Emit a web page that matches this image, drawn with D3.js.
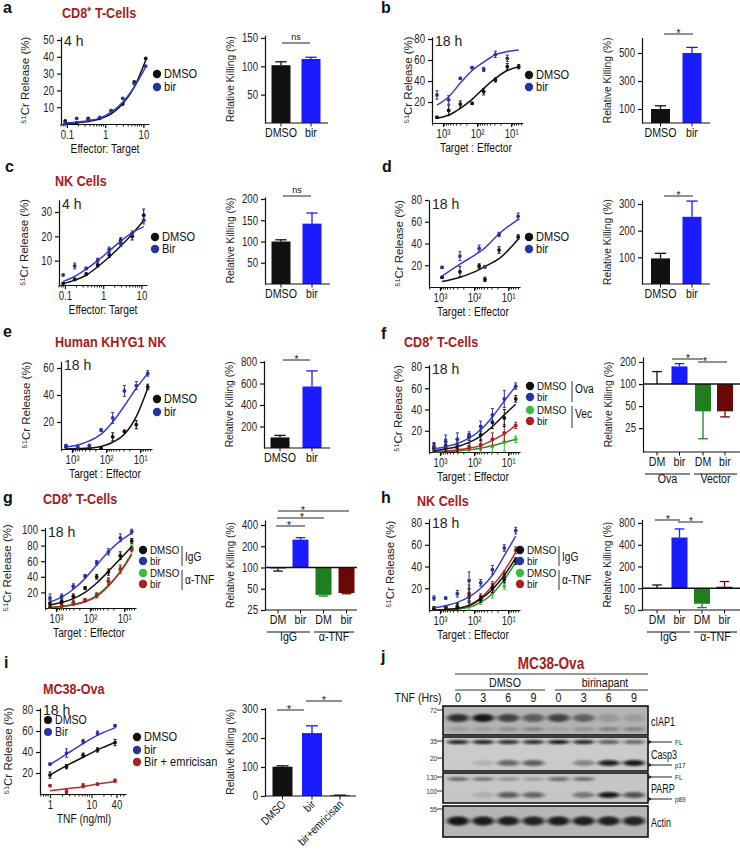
<!DOCTYPE html>
<html><head><meta charset="utf-8">
<script src="https://cdn.jsdelivr.net/npm/d3@7/dist/d3.min.js"></script>
<style>
body{margin:0;background:#fff}
svg{font-family:"Liberation Sans",Arial,sans-serif}
</style></head><body>
<svg id="fig" width="740" height="852"></svg>
<script>
// ================= DATA =================
const etRatio = [0.09,0.18,0.36,0.72,1.44,2.88,5.75,11.5];
const teRatio = [1500,680,310,140,64,29,13,6];
const teRatioD = [870,260,71,48,18.5,5.1];
const tnfDose = [1,2.5,6.3,14,37];
const teTickLabels = {1000:'10³',100:'10²',10:'10¹'};

// a
const aDmso = [1.8,0.8,3.4,3.4,7.9,11.9,25,39];
const aDmsoFit = [0.3,0.8,1.5,3,6,12,22,38];
const aBir = [0.5,3.4,2.8,4,8,15.3,24,34.5];
const aBirFit = [0.6,1.2,2,3.5,7,13,22,34];
const aBars = [102,113], aBarsErr = [108,116];
// b
const bDmso = [5.4,12,18,18.7,29.8,41,53.6,53.6];
const bDmsoErr = [1,5,3,1,3,2,3,2];
const bDmsoFit = [4.5,7.6,14,22.5,33,42.5,50,53.6];
const bBir = [26.7,22,42.5,52.7,51,65.4,61.6];
const bBirErr = [4,4,1,1,2,3,3];
const bBirFit = [17,25,38,50,58,65,68,69.5];
const bBars = [100,500], bBarsErr = [123,540];
// c
const cDmso = [0.7,2.3,4.5,8.2,12.3,18.4,20,28.7];
const cDmsoErr = [0,0.5,0.5,0.8,1,1,1.5,2.5];
const cDmsoFit = [0.5,2,4,7.5,11.5,16,21,26.5];
const cBir = [4.1,7.8,6.8,10.2,14.6,16.8,21.2,26.6];
const cBirErr = [0,1.2,0.5,0.8,1,1,1,1.5];
const cBirFit = [1.5,3.5,6.5,10,14,18,21.5,24];
const cBars = [100,142], cBarsErr = [104,167];
// d
const dDmso = [8.9,14,19.3,7,34,46];
const dDmsoErr = [1,5,2,2,3,2];
const dDmsoFit = [5,9,16,19,26,44];
const dBir = [18,28.4,35.5,18.6,48.3,65];
const dBirErr = [1,4,3,1,2,3];
const dBirFit = [10,21,32,36,49,62];
const dBars = [96,252], dBarsErr = [115,311];
// e
const eDmso = [1.5,0.8,0.8,0.5,9,13,18,46];
const eDmsoErr = [0,0,0,0,3,1,3,2];
const eDmsoFit = [0,0.3,0.7,1.8,5,11,24,45];
const eBir = [2.4,1.7,2.5,14,23,43,47,56];
const eBirErr = [1,1,1,1,4,4,3,2];
const eBirFit = [1.5,3,6,11,20,32,45,56];
const eBars = [98,572], eBarsErr = [117,717];
// f
const fDmsoOva = [4,6,6,14,16,28,32,50];
const fDmsoOvaFit = [1,3,5,9,15,24,35,45];
const fBirOva = [5,10,12,16,24,35,50,62];
const fBirOvaFit = [3,5,8,13,21,33,48,62];
const fDmsoVec = [2,2,2,3,5,5,9,12];
const fDmsoVecFit = [0,0.5,1,2,3.5,6,9,12];
const fBirVec = [3,4,3,5,7,12,18,25];
const fBirVecFit = [0.5,1,2,3.5,6,11,17,25];
const fErr = [4,6,6,3,5,6,8,3];
const fBars = [100,174,42.4,42.4], fBarsErr = [148,190,17.9,35.6];
// g
const gDmsoIgg = [5.5,8.5,15,25.5,40,46,67,86];
const gDmsoIggFit = [4,7,12,20,32,47,63,79];
const gBirIgg = [13,15,28,41,58,72,90,98];
const gBirIggFit = [8,14,24,38,55,72,86,96];
const gDmsoTnf = [1.5,2.5,6,10,17,35,49,78];
const gDmsoTnfFit = [1,2,4.5,8.5,16,29,47,70];
const gBirTnf = [2,3,7,10,16,34,50,75];
const gBirTnfFit = [1,2,4,8,15,28,46,68];
const gErr = [5,3,3,2,3,4,5,3];
const gBars = [97,248,41,43.5], gBarsErr = [89,265,39.5,42.5];
// h
const hDmsoIgg = [1,3,3,12,10,20,28,45];
const hDmsoIggFit = [0,0.5,1.5,4,10,19,32,48];
const hBirIgg = [11,11,15,27,25,37,57,73];
const hBirIggFit = [2,4,7,12,20,32,50,68];
const hDmsoTnf = [0.5,2,2,8,8,15,22,45];
const hDmsoTnfFit = [0,0.3,1,2.5,7,15,28,44];
const hBirTnf = [1,2,3,15,12,22,33,55];
const hBirTnfFit = [0,0.5,1.5,4.5,11,22,36,53];
const hErr = [2,1,3,8,3,4,3,3];
const hBars = [100,504,61,105], hBarsErr = [111,662,54,124];
// i
const iDmso = [18,26,37,42,49];
const iDmsoErr = [3,2,2,2,3];
const iDmsoFit = [18,27,35,42,49];
const iBir = [28.5,39,50,58,65];
const iBirErr = [1,4,2,2,1];
const iBirFit = [28,38,48,56,63];
const iEmr = [7.9,2.2,7.9,9.5,12.7];
const iEmrErr = [0.5,2,2,1,1.5];
const iEmrFit = [3,5,7,9.5,12];
const iBars = [101,217,2], iBarsErr = [104,242,3];
const iBarLabels = ['DMSO','bir','bir+emricisan'];
// j (western blot band intensities, lanes: DMSO 0,3,6,9 | birinapant 0,3,6,9)
const tnfHrs = ['0','3','6','9','0','3','6','9'];
const bandCiap1 = [0.8,0.95,0.7,0.55,0.7,0.45,0.15,0.12];
const bandCiap1Low = [0.12,0.12,0.2,0.25,0.1,0.18,0.28,0.28];
const bandCasp3FL = [0.9,0.9,0.85,0.85,0.95,0.88,0.6,0.55];
const bandCasp3p17 = [0.02,0.12,0.55,0.6,0.02,0.35,0.9,0.95];
const bandParpFL = [0.45,0.4,0.25,0.2,0.5,0.45,0.02,0.02];
const bandParpP89 = [0.02,0.12,0.6,0.55,0.02,0.4,0.95,0.65];
const bandActin = [0.95,0.92,0.9,0.88,0.92,0.9,0.9,0.88];

// ================= DRAWING =================
const svg = d3.select('#fig');
const COL = {
  black:'#111111', navy:'#25359e', blueLine:'#3a3ad6', blueBar:'#1b1bff',
  green:'#3dbb3d', greenLine:'#2a8a2a', greenBar:'#1f7f1f',
  red:'#a82020', redLine:'#b23030', redBar:'#6a0808', title:'#a3201c'
};
// squeeze glyphs horizontally to mimic the narrow typeface of the figure
function condense(sel,f){
  if(f>=1) return;
  sel.each(function(){
    const L=this.getComputedTextLength();
    if(L>0){ this.setAttribute('textLength',(L*f).toFixed(2)); this.setAttribute('lengthAdjust','spacingAndGlyphs'); }
  });
}
function text(x,y,str,opt={}){
  const t = svg.append('text').attr('x',x).attr('y',y).text(str)
    .attr('font-size',opt.size||12).attr('fill',opt.fill||'#111')
    .attr('text-anchor',opt.anchor||'start');
  if(opt.weight) t.attr('font-weight',opt.weight);
  if(opt.rotate!=null) t.attr('transform',`rotate(${opt.rotate},${x},${y})`);
  condense(t,opt.cond==null?0.85:opt.cond);
  return t;
}
function styleAxis(g){
  g.selectAll('path,line').attr('stroke','#111').attr('stroke-width',1.2);
  g.selectAll('text').attr('fill','#222').attr('font-size',12);
  condense(g.selectAll('text'),0.8);
}

function linePanel(o){
  const y = d3.scaleLinear().domain([0,o.vRef]).range([o.y0,o.yRef]);
  const topPx = y(o.vTop);
  const yA = d3.scaleLinear().domain([0,o.vTop]).range([o.y0,topPx]);
  let x, major, fmt;
  if(o.xType==='ET'){ x=d3.scaleLog().domain([0.07,14]).range([o.x0,o.x0+88]); major=[0.1,1,10]; fmt=d=>String(d); }
  else if(o.xType==='TE'){ x=d3.scaleLog().domain([2100,4.5]).range([o.x0,o.x0+91]); major=[1000,100,10]; fmt=d=>teTickLabels[d]; }
  else { x=d3.scaleLog().domain([0.575,68]).range([o.x0,o.x0+86]); major=[1,10,40]; fmt=d=>String(d); }
  const gy = svg.append('g').attr('transform',`translate(${o.x0},0)`)
    .call(d3.axisLeft(yA).tickValues(o.yTicks).tickSize(4).tickSizeOuter(0).tickPadding(3));
  styleAxis(gy);
  const gx = svg.append('g').attr('transform',`translate(0,${o.y0})`)
    .call(d3.axisBottom(x).tickValues(major).tickFormat(fmt).tickSize(4).tickSizeOuter(0).tickPadding(2));
  styleAxis(gx);
  const mn = x.ticks().filter(t=>!major.includes(t));
  svg.append('g').selectAll('line').data(mn).join('line')
    .attr('x1',d=>x(d)).attr('x2',d=>x(d)).attr('y1',o.y0).attr('y2',o.y0+2.5)
    .attr('stroke','#111').attr('stroke-width',1);
  if(o.xLabel) text(o.x0+44,o.y0+29,o.xLabel,{anchor:'middle',size:12});
  text(o.ylx,(o.y0+topPx)/2,'⁵¹Cr Release (%)',{anchor:'middle',size:11.5,rotate:-90,fill:'#222',cond:1});
  text(o.x0+3,o.timeY||topPx+9,o.time,{size:14,fill:'#222',cond:1});
  o.series.forEach(s=>{
    const xs = s.xs||o.xs;
    svg.append('path').datum(s.fit)
      .attr('d',d3.line().x((d,i)=>x(xs[i])).y(d=>y(d)).curve(d3.curveMonotoneX))
      .attr('fill','none').attr('stroke',s.line).attr('stroke-width',1.5);
    if(s.err){
      const ge = svg.append('g').attr('stroke',s.dot).attr('stroke-width',1);
      s.pts.forEach((v,i)=>{
        const e=s.err[i]; if(!e) return;
        const cx=x(xs[i]);
        ge.append('line').attr('x1',cx).attr('x2',cx).attr('y1',y(v+e)).attr('y2',y(Math.max(0,v-e)));
        ge.append('line').attr('x1',cx-1.5).attr('x2',cx+1.5).attr('y1',y(v+e)).attr('y2',y(v+e));
        ge.append('line').attr('x1',cx-1.5).attr('x2',cx+1.5).attr('y1',y(Math.max(0,v-e))).attr('y2',y(Math.max(0,v-e)));
      });
    }
    svg.append('g').selectAll('circle').data(s.pts).join('circle')
      .attr('cx',(d,i)=>x(xs[i])).attr('cy',d=>y(d)).attr('r',1.9).attr('fill',s.dot);
  });
}

function legend(items,r=4.2,size=13){
  items.forEach(it=>{
    svg.append('circle').attr('cx',it.x).attr('cy',it.y).attr('r',r).attr('fill',it.c);
    text(it.x+7,it.y+4,it.t,{size:size});
  });
}
function bracket(x,y1,y2,label,ty){
  svg.append('line').attr('x1',x).attr('x2',x).attr('y1',y1).attr('y2',y2).attr('stroke','#333').attr('stroke-width',1);
  text(x+3,ty,label,{size:12});
}

function barPanel(o){
  let y, yA;
  if(o.log){
    y=d3.scaleLog().base(2).domain([o.vLo,o.vRef]).range([o.y0,o.yRef]);
    yA=d3.scaleLog().base(2).domain([o.vLo,o.vTop]).range([o.y0,y(o.vTop)]);
  } else {
    y=d3.scaleLinear().domain([0,o.vRef]).range([o.y0,o.yRef]);
    yA=d3.scaleLinear().domain([0,o.vTop]).range([o.y0,y(o.vTop)]);
  }
  const base = o.log?100:0;
  const g = svg.append('g');
  o.vals.forEach((v,i)=>{
    const cx=o.cx[i], w=o.w, col=o.fills[i];
    const y1=y(Math.max(v,base)), y2=y(Math.min(v,base));
    if(y2-y1>0.5) g.append('rect').attr('x',cx-w/2).attr('y',y1).attr('width',w).attr('height',y2-y1).attr('fill',col);
    const e=o.errs[i], ec=o.fills[i];
    g.append('line').attr('x1',cx).attr('x2',cx).attr('y1',y(v)).attr('y2',y(e)).attr('stroke',ec).attr('stroke-width',1.3);
    g.append('line').attr('x1',cx-w*0.3).attr('x2',cx+w*0.3).attr('y1',y(e)).attr('y2',y(e)).attr('stroke',ec).attr('stroke-width',1.3);
  });
  const gy = svg.append('g').attr('transform',`translate(${o.ax},0)`)
    .call(d3.axisLeft(yA).tickValues(o.ticks).tickFormat(d=>String(d)).tickSize(4).tickSizeOuter(0).tickPadding(3));
  styleAxis(gy);
  svg.append('line').attr('x1',o.ax).attr('x2',o.xEnd).attr('y1',o.y0).attr('y2',o.y0).attr('stroke','#111').attr('stroke-width',1.2);
  o.cx.forEach(cx=>svg.append('line').attr('x1',cx).attr('x2',cx).attr('y1',o.y0).attr('y2',o.y0+3.5).attr('stroke','#111'));
  if(o.log) svg.append('line').attr('x1',o.ax).attr('x2',o.xEnd).attr('y1',y(100)).attr('y2',y(100)).attr('stroke','#111').attr('stroke-width',1.5);
  if(o.labels && !o.rotLabels) o.labels.forEach((l,i)=>text(o.cx[i],o.y0+14,l,{anchor:'middle',size:12.5}));
  if(o.rotLabels) o.labels.forEach((l,i)=>text(o.cx[i]+4,o.y0+9,l,{anchor:'end',size:11.5,rotate:-45}));
  if(o.groups) o.groups.forEach(gr=>{
    svg.append('line').attr('x1',gr.x1).attr('x2',gr.x2).attr('y1',o.y0+22).attr('y2',o.y0+22).attr('stroke','#111');
    text((gr.x1+gr.x2)/2,o.y0+31,gr.t,{anchor:'middle',size:12.5});
  });
  text(o.ax-31,(o.y0+y(o.vTop))/2,'Relative Killing (%)',{anchor:'middle',size:11,rotate:-90,fill:'#222',cond:0.93});
  (o.sig||[]).forEach(s=>{
    svg.append('line').attr('x1',s.x1).attr('x2',s.x2).attr('y1',s.y).attr('y2',s.y).attr('stroke','#222').attr('stroke-width',1);
    if(s.t==='ns') text(s.tx||(s.x1+s.x2)/2,s.y-3,'ns',{anchor:'middle',size:9,cond:1});
    else text(s.tx||(s.x1+s.x2)/2,s.y+3,'*',{anchor:'middle',size:10,cond:1});
  });
}

// -------- panel labels & titles --------
[['a',3,13],['b',381,13],['c',5,172],['d',382,172],['e',3,337],['f',381,339],['g',3,503],['h',381,503],['i',4,668],['j',381,662]]
  .forEach(p=>text(p[1],p[2],p[0],{size:16,weight:'bold',cond:1}));
const TT = {size:15,weight:'bold',fill:COL.title,cond:0.84};
text(62,18,'CD8⁺ T-Cells',TT);
text(55,186,'NK Cells',TT);
text(55,347,'Human KHYG1 NK',TT);
text(404,347,'CD8⁺ T-Cells',TT);
text(43,504,'CD8⁺ T-Cells',TT);
text(417,506,'NK Cells',TT);
text(43,694,'MC38-Ova',TT);

// -------- a --------
linePanel({x0:61,y0:124,vRef:50,yRef:40,vTop:52,yTicks:[10,20,30,40,50],xType:'ET',xs:etRatio,
  time:'4 h',xLabel:'Effector: Target',ylx:29,
  series:[{pts:aDmso,fit:aDmsoFit,dot:COL.black,line:COL.black},{pts:aBir,fit:aBirFit,dot:COL.navy,line:COL.blueLine}]});
legend([{x:157,y:74,c:COL.black,t:'DMSO'},{x:157,y:87,c:COL.navy,t:'bir'}]);
barPanel({ax:265,y0:123,vRef:150,yRef:38,vTop:155,ticks:[50,100,150],vals:aBars,errs:aBarsErr,cx:[281,311],w:19,
  fills:[COL.black,COL.blueBar],xEnd:328,labels:['DMSO','bir'],sig:[{x1:282,x2:310,y:43,t:'ns'}]});

// -------- b --------
linePanel({x0:432,y0:123,vRef:80,yRef:39,vTop:82,yTicks:[20,40,60,80],xType:'TE',xs:teRatio,
  time:'18 h',xLabel:'Target : Effector',ylx:412,
  series:[{pts:bDmso,err:bDmsoErr,fit:bDmsoFit,dot:COL.black,line:COL.black},{pts:bBir,err:bBirErr,fit:bBirFit,dot:COL.navy,line:COL.blueLine}]});
legend([{x:529,y:75,c:COL.black,t:'DMSO'},{x:529,y:87,c:COL.navy,t:'bir'}]);
barPanel({ax:642,y0:123,vRef:500,yRef:53,vTop:610,ticks:[100,300,500],vals:bBars,errs:bBarsErr,cx:[660.5,692],w:19,
  fills:[COL.black,COL.blueBar],xEnd:710,labels:['DMSO','bir'],sig:[{x1:664,x2:693,y:34,t:'*'}]});

// -------- c --------
linePanel({x0:59,y0:285,vRef:30,yRef:212,vTop:35,yTicks:[10,20,30],xType:'ET',xs:etRatio,
  time:'4 h',xLabel:'Effector: Target',ylx:28,
  series:[{pts:cDmso,err:cDmsoErr,fit:cDmsoFit,dot:COL.black,line:COL.black},{pts:cBir,err:cBirErr,fit:cBirFit,dot:COL.navy,line:COL.blueLine}]});
legend([{x:155,y:237,c:COL.black,t:'DMSO'},{x:155,y:249,c:COL.navy,t:'Bir'}]);
barPanel({ax:265,y0:284,vRef:200,yRef:199,vTop:205,ticks:[50,100,150,200],vals:cBars,errs:cBarsErr,cx:[281,312],w:19,
  fills:[COL.black,COL.blueBar],xEnd:330,labels:['DMSO','bir'],sig:[{x1:283,x2:311,y:196,t:'ns'}]});

// -------- d --------
linePanel({x0:429,y0:287,vRef:80,yRef:200,vTop:80,yTicks:[20,40,60,80],xType:'TE',xs:teRatio,
  time:'18 h',xLabel:'Target : Effector',ylx:403,
  series:[{pts:dDmso,err:dDmsoErr,fit:dDmsoFit,xs:teRatioD,dot:COL.black,line:COL.black},{pts:dBir,err:dBirErr,fit:dBirFit,xs:teRatioD,dot:COL.navy,line:COL.blueLine}]});
legend([{x:529,y:237,c:COL.black,t:'DMSO'},{x:529,y:249,c:COL.navy,t:'bir'}]);
barPanel({ax:642,y0:284,vRef:300,yRef:204,vTop:315,ticks:[100,200,300],vals:dBars,errs:dBarsErr,cx:[660.5,692],w:19,
  fills:[COL.black,COL.blueBar],xEnd:710,labels:['DMSO','bir'],sig:[{x1:664,x2:693,y:196,t:'*'}]});

// -------- e --------
linePanel({x0:61,y0:449,vRef:60,yRef:368,vTop:65,yTicks:[20,40,60],xType:'TE',xs:teRatio,
  time:'18 h',xLabel:'Target : Effector',ylx:30,
  series:[{pts:eDmso,err:eDmsoErr,fit:eDmsoFit,dot:COL.black,line:COL.black},{pts:eBir,err:eBirErr,fit:eBirFit,dot:COL.navy,line:COL.blueLine}]});
legend([{x:157,y:399,c:COL.black,t:'DMSO'},{x:157,y:412,c:COL.navy,t:'bir'}]);
barPanel({ax:264,y0:448,vRef:800,yRef:362,vTop:812,ticks:[200,400,600,800],vals:eBars,errs:eBarsErr,cx:[280,312],w:19,
  fills:[COL.black,COL.blueBar],xEnd:330,labels:['DMSO','bir'],sig:[{x1:283,x2:310,y:360,t:'*'}]});

// -------- f --------
linePanel({x0:429,y0:452,vRef:80,yRef:367,vTop:82,yTicks:[20,40,60,80],xType:'TE',xs:teRatio,
  time:'18 h',xLabel:'Target : Effector',ylx:402,
  series:[
    {pts:fDmsoVec,err:fErr,fit:fDmsoVecFit,dot:COL.green,line:COL.greenLine},
    {pts:fBirVec,err:fErr,fit:fBirVecFit,dot:COL.red,line:COL.redLine},
    {pts:fDmsoOva,err:fErr,fit:fDmsoOvaFit,dot:COL.black,line:COL.black},
    {pts:fBirOva,err:fErr,fit:fBirOvaFit,dot:COL.navy,line:COL.blueLine}]});
legend([{x:530,y:386,c:COL.black,t:'DMSO'},{x:530,y:397,c:COL.navy,t:'bir'},{x:530,y:410,c:COL.green,t:'DMSO'},{x:530,y:421,c:COL.red,t:'bir'}],4.2,11.5);
bracket(572,381,402,'Ova',393); bracket(572,406,428,'Vec',418);
barPanel({ax:643,y0:452,log:true,vLo:11.8,vRef:200,yRef:362,vTop:235,ticks:[25,50,100,200],vals:fBars,errs:fBarsErr,
  cx:[657,679.5,703,725],w:16,fills:[COL.black,COL.blueBar,COL.greenBar,COL.redBar],xEnd:740,
  labels:['DM','bir','DM','bir'],groups:[{x1:645,x2:690,t:'Ova'},{x1:694,x2:737,t:'Vector'}],
  sig:[{x1:672,x2:703,y:359,t:'*',tx:688},{x1:698,x2:727,y:362,t:'*',tx:705}]});

// -------- g --------
linePanel({x0:45,y0:608,vRef:100,yRef:530,vTop:103,yTicks:[20,40,60,80,100],xType:'TE',xs:teRatio,
  time:'18 h',xLabel:'Target : Effector',ylx:11,
  series:[
    {pts:gDmsoTnf,err:gErr,fit:gDmsoTnfFit,dot:COL.green,line:COL.greenLine},
    {pts:gBirTnf,err:gErr,fit:gBirTnfFit,dot:COL.red,line:COL.redLine},
    {pts:gDmsoIgg,err:gErr,fit:gDmsoIggFit,dot:COL.black,line:COL.black},
    {pts:gBirIgg,err:gErr,fit:gBirIggFit,dot:COL.navy,line:COL.blueLine}]});
legend([{x:143,y:550,c:COL.black,t:'DMSO'},{x:143,y:561,c:COL.navy,t:'bir'},{x:143,y:573,c:COL.green,t:'DMSO'},{x:143,y:584,c:COL.red,t:'bir'}],4.2,11.5);
bracket(182,546,566,'IgG',561); bracket(182,570,590,'α-TNF',584);
barPanel({ax:265,y0:610,log:true,vLo:25,vRef:400,yRef:525,vTop:470,ticks:[25,50,100,200,400],vals:gBars,errs:gBarsErr,
  cx:[278,300.5,323.5,346.5],w:16,fills:[COL.black,COL.blueBar,COL.greenBar,COL.redBar],xEnd:357,
  labels:['DM','bir','DM','bir'],groups:[{x1:267,x2:310,t:'IgG'},{x1:314,x2:354,t:'α-TNF'}],
  sig:[{x1:276,x2:305,y:526,t:'*',tx:289},{x1:277,x2:324,y:518,t:'*',tx:302},{x1:278,x2:349,y:511,t:'*',tx:303}]});

// -------- h --------
linePanel({x0:429,y0:610,vRef:80,yRef:523,vTop:84,yTicks:[20,40,60,80],xType:'TE',xs:teRatio,
  time:'18 h',xLabel:'Target : Effector',ylx:394,
  series:[
    {pts:hDmsoTnf,err:hErr,fit:hDmsoTnfFit,dot:COL.green,line:COL.greenLine},
    {pts:hBirTnf,err:hErr,fit:hBirTnfFit,dot:COL.red,line:COL.redLine},
    {pts:hDmsoIgg,err:hErr,fit:hDmsoIggFit,dot:COL.black,line:COL.black},
    {pts:hBirIgg,err:hErr,fit:hBirIggFit,dot:COL.navy,line:COL.blueLine}]});
legend([{x:520,y:550,c:COL.black,t:'DMSO'},{x:520,y:561,c:COL.navy,t:'bir'},{x:520,y:573,c:COL.green,t:'DMSO'},{x:520,y:584,c:COL.red,t:'bir'}],4.2,11.5);
bracket(559,546,566,'IgG',561); bracket(559,570,590,'α-TNF',584);
barPanel({ax:642,y0:610,log:true,vLo:50,vRef:800,yRef:523,vTop:900,ticks:[50,100,200,400,800],vals:hBars,errs:hBarsErr,
  cx:[657,679.5,702,724.5],w:16,fills:[COL.black,COL.blueBar,COL.greenBar,COL.redBar],xEnd:740,
  labels:['DM','bir','DM','bir'],groups:[{x1:647,x2:690,t:'IgG'},{x1:694,x2:737,t:'α-TNF'}],
  sig:[{x1:655,x2:680,y:520,t:'*',tx:668},{x1:678,x2:703,y:522,t:'*',tx:691}]});

// -------- i --------
linePanel({x0:40,y0:794,vRef:80,yRef:710,vTop:82,yTicks:[20,40,60,80],xType:'TNF',xs:tnfDose,
  time:'18 h',timeY:715,xLabel:'TNF (ng/ml)',ylx:12,
  series:[
    {pts:iEmr,err:iEmrErr,fit:iEmrFit,dot:COL.red,line:COL.redLine},
    {pts:iDmso,err:iDmsoErr,fit:iDmsoFit,dot:COL.black,line:COL.black},
    {pts:iBir,err:iBirErr,fit:iBirFit,dot:COL.navy,line:COL.blueLine}]});
legend([{x:48,y:720,c:COL.black,t:'DMSO'},{x:48,y:732,c:COL.navy,t:'Bir'}],4,12.5);
legend([{x:137,y:737,c:COL.black,t:'DMSO'},{x:137,y:750,c:COL.navy,t:'bir'},{x:137,y:762,c:COL.red,t:'Bir + emricisan'}]);
barPanel({ax:265,y0:796,vRef:300,yRef:709,vTop:305,ticks:[0,100,200,300],vals:iBars,errs:iBarsErr,
  cx:[282.5,312,340],w:20,fills:[COL.black,COL.blueBar,COL.black],xEnd:356,labels:iBarLabels,rotLabels:true,
  sig:[{x1:277,x2:304,y:710,t:'*',tx:289},{x1:306,x2:342,y:701,t:'*',tx:324}]});

// -------- j : western blot --------
const defs = svg.append('defs');
defs.append('filter').attr('id','blur').attr('x','-50%').attr('y','-150%').attr('width','200%').attr('height','400%')
  .append('feGaussianBlur').attr('stdDeviation','2.2 1.3');
const lane = d3.scaleBand().domain(d3.range(8)).range([446,646]).paddingInner(0.04);
text(551,669,'MC38-Ova',{anchor:'middle',size:16,weight:'bold',fill:COL.title});
svg.append('line').attr('x1',455).attr('x2',648).attr('y1',674).attr('y2',674).attr('stroke','#333');
text(505,687,'DMSO',{anchor:'middle',size:12.5});
text(605,687,'birinapant',{anchor:'middle',size:12.5});
svg.append('line').attr('x1',455).attr('x2',545).attr('y1',690).attr('y2',690).attr('stroke','#333');
svg.append('line').attr('x1',555).attr('x2',648).attr('y1',690).attr('y2',690).attr('stroke','#333');
text(418,702,'TNF (Hrs)',{anchor:'middle',size:12.5});
tnfHrs.forEach((h,i)=>text(lane(i)+lane.bandwidth()/2,702,h,{anchor:'middle',size:12.5}));
const blotBoxes = [{y:706,h:29,f:'#b3b3b3'},{y:737,h:34,f:'#cbcbcb'},{y:773,h:30,f:'#c6c6c6'},{y:806,h:31,f:'#b6b6b6'}];
blotBoxes.forEach(b=>svg.append('rect').attr('x',443).attr('y',b.y).attr('width',205).attr('height',b.h)
  .attr('fill',b.f));
const bandRows = [
  {d:bandCiap1,y:718,h:8},{d:bandCiap1Low,y:729,h:4},
  {d:bandCasp3FL,y:742,h:4},{d:bandCasp3p17,y:763,h:6},
  {d:bandParpFL,y:779,h:4},{d:bandParpP89,y:795,h:6},
  {d:bandActin,y:821,h:9}];
const gb = svg.append('g').attr('filter','url(#blur)');
bandRows.forEach(r=>r.d.forEach((v,i)=>{
  gb.append('ellipse').attr('cx',lane(i)+lane.bandwidth()/2).attr('cy',r.y)
    .attr('rx',lane.bandwidth()/2-1).attr('ry',r.h/2)
    .attr('fill','#0e0e0e').attr('opacity',v);
}));
blotBoxes.forEach(b=>svg.append('rect').attr('x',443).attr('y',b.y).attr('width',205).attr('height',b.h)
  .attr('fill','none').attr('stroke','#111').attr('stroke-width',1.6));
[['72',710],['35',741],['20',758],['130',777],['100',791],['55',809]].forEach(m=>{
  text(437,m[1]+2.5,m[0],{anchor:'end',size:7.5,fill:'#333'});
  svg.append('line').attr('x1',437).attr('x2',443).attr('y1',m[1]).attr('y2',m[1]).attr('stroke','#333');
});
const BL = {size:12.5,cond:0.72};
text(651,726,'cIAP1',BL);
text(651,759,'Casp3',BL);
text(651,793,'PARP',BL);
text(651,827,'Actin',BL);
defs.append('marker').attr('id','arr').attr('viewBox','0 0 10 10').attr('refX',1).attr('refY',5)
  .attr('markerWidth',5).attr('markerHeight',5).attr('orient','auto')
  .append('path').attr('d','M10,0 L0,5 L10,10 z').attr('fill','#222');
[['FL',742],['p17',765],['FL',777],['p89',799]].forEach(a=>{
  svg.append('line').attr('x1',672).attr('x2',652).attr('y1',a[1]).attr('y2',a[1]).attr('stroke','#222').attr('marker-end','url(#arr)');
  text(675,a[1]+2.5,a[0],{size:7.5,fill:'#222'});
});
</script></body></html>
